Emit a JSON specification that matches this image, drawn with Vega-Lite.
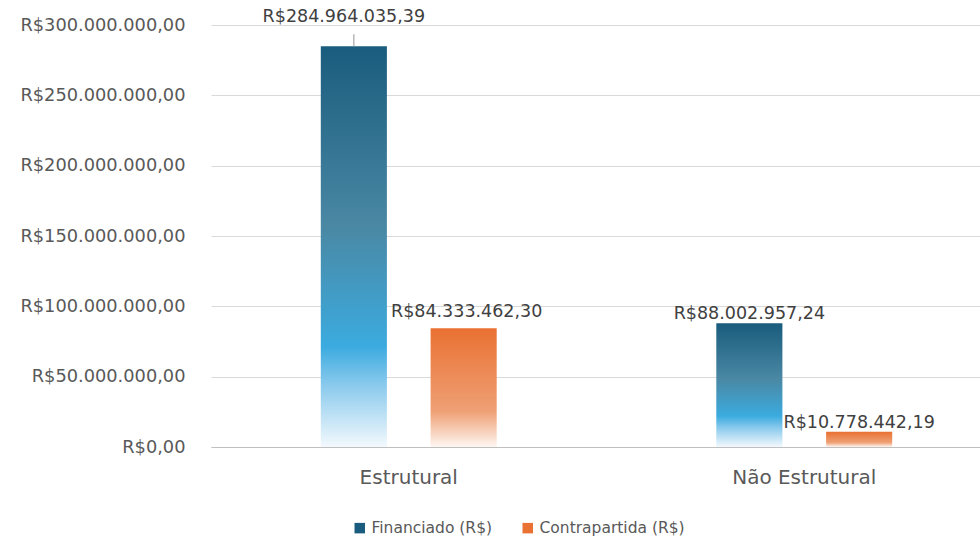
{
  "$schema": "https://vega.github.io/schema/vega-lite/v6.json",
  "width": 769,
  "height": 422,
  "autosize": {"type": "none"},
  "padding": {"left": 211, "top": 25, "right": 0, "bottom": 93},
  "config": {
    "locale": {"number": {"decimal": ",", "thousands": ".", "grouping": [3], "currency": ["R$", ""]}},
    "view": {"stroke": null},
    "font": "DejaVu Sans"
  },
  "data": {"values": [
    {"categoria": "Estrutural", "serie": "Financiado (R$)", "valor": 284964035.39},
    {"categoria": "Estrutural", "serie": "Contrapartida (R$)", "valor": 84333462.30},
    {"categoria": "Não Estrutural", "serie": "Financiado (R$)", "valor": 88002957.24},
    {"categoria": "Não Estrutural", "serie": "Contrapartida (R$)", "valor": 10778442.19}
  ]},
  "encoding": {
    "x": {
      "field": "categoria", "type": "nominal", "sort": null,
      "scale": {"paddingInner": 0, "paddingOuter": 0, "range": [0, 791]},
      "axis": {"title": null, "labelAngle": 0, "labelFontSize": 20, "labelColor": "#595959", "ticks": false, "labelPadding": 20, "domainColor": "#bfbfbf", "domainWidth": 1, "grid": false}
    },
    "xOffset": {
      "field": "serie", "type": "nominal", "sort": ["Financiado (R$)", "Contrapartida (R$)"],
      "scale": {"paddingInner": 0.398, "paddingOuter": 1.03}
    },
    "y": {
      "field": "valor", "type": "quantitative",
      "scale": {"domain": [0, 300000000], "nice": false},
      "axis": {"title": null, "values": [0, 50000000, 100000000, 150000000, 200000000, 250000000, 300000000], "format": "$,.2f", "labelFontSize": 17.8, "labelColor": "#595959", "ticks": false, "domain": false, "labelPadding": 26, "gridColor": "#d9d9d9", "gridWidth": 1}
    }
  },
  "layer": [
    {
      "transform": [{"filter": "datum.serie === 'Financiado (R$)'"}],
      "mark": {"type": "bar", "fill": {"gradient": "linear", "x1": 0, "y1": 0, "x2": 0, "y2": 1, "stops": [
        {"offset": 0, "color": "#1a5c7d"},
        {"offset": 0.45, "color": "#4a88a4"},
        {"offset": 0.75, "color": "#3babdf"},
        {"offset": 0.84, "color": "#86c8ec"},
        {"offset": 1, "color": "#f3f9fd"}
      ]}}
    },
    {
      "transform": [{"filter": "datum.serie === 'Contrapartida (R$)'"}],
      "mark": {"type": "bar", "fill": {"gradient": "linear", "x1": 0, "y1": 0, "x2": 0, "y2": 1, "stops": [
        {"offset": 0, "color": "#e97132"},
        {"offset": 0.7, "color": "#efa075"},
        {"offset": 0.85, "color": "#f6cbb3"},
        {"offset": 1, "color": "#fef6f2"}
      ]}}
    },
    {
      "transform": [{"filter": "datum.valor < 80000000 || (datum.valor > 85000000 && datum.valor < 200000000)"}],
      "mark": {"type": "text", "baseline": "alphabetic", "dy": -4, "fontSize": 17.5, "color": "#404040"},
      "encoding": {"text": {"field": "valor", "type": "quantitative", "format": "$,.2f"}}
    },
    {
      "transform": [{"filter": "datum.valor > 80000000 && datum.valor < 85000000"}],
      "mark": {"type": "text", "baseline": "alphabetic", "dy": -11, "dx": 3, "fontSize": 17.5, "color": "#404040"},
      "encoding": {"text": {"field": "valor", "type": "quantitative", "format": "$,.2f"}}
    },
    {
      "transform": [{"filter": "datum.valor > 200000000"}],
      "mark": {"type": "text", "baseline": "alphabetic", "dy": -24.5, "dx": -10, "fontSize": 17.5, "color": "#404040"},
      "encoding": {"text": {"field": "valor", "type": "quantitative", "format": "$,.2f"}}
    },
    {
      "transform": [{"filter": "datum.valor > 200000000"}],
      "mark": {"type": "rule", "color": "#a6a6a6", "strokeWidth": 1.2, "y2Offset": -12},
      "encoding": {"y2": {"field": "valor"}}
    },
    {
      "mark": {"type": "square", "opacity": 0},
      "encoding": {
        "color": {
          "field": "serie", "type": "nominal", "sort": ["Financiado (R$)", "Contrapartida (R$)"],
          "scale": {"domain": ["Financiado (R$)", "Contrapartida (R$)"], "range": ["#1a5c7d", "#e97132"]},
          "legend": {
            "title": null, "orient": "none", "legendX": 141, "legendY": 495, "direction": "horizontal", "padding": 0,
            "labelFontSize": 15.5, "labelColor": "#595959", "symbolType": "square", "symbolSize": 110,
            "symbolOpacity": 1, "symbolStrokeWidth": 0, "labelOffset": 4, "columnPadding": 27,
            "encode": {"symbols": {
              "enter": {"fill": {"signal": "datum.value === 'Financiado (R$)' ? {gradient: 'linear', x1: 0, y1: 0, x2: 0, y2: 1, stops: [{offset: 0, color: '#1a5c7d'}, {offset: 0.6, color: '#3babdf'}, {offset: 1, color: '#e6f4fb'}]} : {gradient: 'linear', x1: 0, y1: 0, x2: 0, y2: 1, stops: [{offset: 0, color: '#e97132'}, {offset: 0.6, color: '#efa075'}, {offset: 1, color: '#fbe3d6'}]}"}},
              "update": {"fill": {"signal": "datum.value === 'Financiado (R$)' ? {gradient: 'linear', x1: 0, y1: 0, x2: 0, y2: 1, stops: [{offset: 0, color: '#1a5c7d'}, {offset: 0.6, color: '#3babdf'}, {offset: 1, color: '#e6f4fb'}]} : {gradient: 'linear', x1: 0, y1: 0, x2: 0, y2: 1, stops: [{offset: 0, color: '#e97132'}, {offset: 0.6, color: '#efa075'}, {offset: 1, color: '#fbe3d6'}]}"}, "opacity": {"value": 1}}
            }}
          }
        }
      }
    }
  ]
}
